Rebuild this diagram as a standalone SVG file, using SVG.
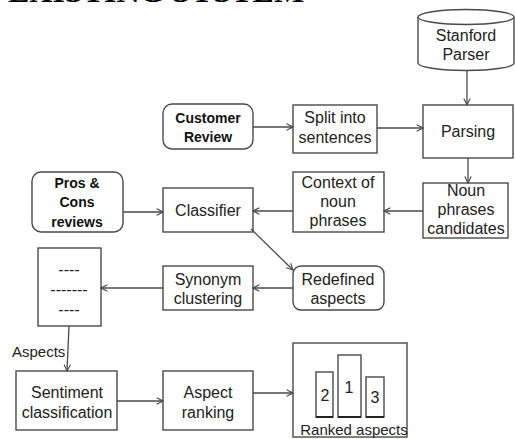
<svg xmlns="http://www.w3.org/2000/svg" width="515" height="439" viewBox="0 0 515 439">
<style>
.box{fill:#fff;stroke:#4a4a4a;stroke-width:1.4}
.t{font-family:"Liberation Sans",Arial,sans-serif;font-size:16px;fill:#222;text-anchor:middle}
.b{font-family:"Liberation Sans",Arial,sans-serif;font-size:14px;font-weight:bold;fill:#111;text-anchor:middle}
.c{fill:none;stroke:#4a4a4a;stroke-width:1.3}
.title{font-family:"Liberation Serif","Times New Roman",serif;font-size:32px;font-weight:bold;fill:#000}
</style>
<defs>
<marker id="ah" viewBox="0 0 10 10" refX="9" refY="5" markerWidth="8" markerHeight="8" markerUnits="userSpaceOnUse" orient="auto">
<path d="M1,1 L9,5 L1,9" fill="none" stroke="#4a4a4a" stroke-width="1.4"/>
</marker>
</defs>
<rect width="515" height="439" fill="#fff"/>
<text class="title" x="8" y="2">EXISTING SYSTEM</text>

<g id="stanford-parser">
<path class="box" d="M418,17 L418,63 A48,7.5 0 0 0 514,63 L514,17"/>
<ellipse class="box" cx="466" cy="17" rx="48" ry="7.5"/>
<text class="t" x="466" y="41">Stanford</text>
<text class="t" x="466" y="60">Parser</text>
</g>

<g id="customer-review">
<rect class="box" x="163" y="104" width="90" height="45" rx="9"/>
<text class="b" x="208" y="123">Customer</text>
<text class="b" x="208" y="142">Review</text>
</g>

<g id="split">
<rect class="box" x="293" y="105" width="84" height="48"/>
<text class="t" x="335" y="123">Split into</text>
<text class="t" x="335" y="143">sentences</text>
</g>

<g id="parsing">
<rect class="box" x="423" y="105" width="90" height="53"/>
<text class="t" x="468" y="137">Parsing</text>
</g>

<g id="noun-phrases">
<rect class="box" x="423" y="183" width="85" height="55"/>
<text class="t" x="466" y="196">Noun</text>
<text class="t" x="466" y="215">phrases</text>
<text class="t" x="466" y="234">candidates</text>
</g>

<g id="context">
<rect class="box" x="293" y="172" width="91" height="60"/>
<text class="t" x="338" y="188">Context of</text>
<text class="t" x="338" y="207">noun</text>
<text class="t" x="338" y="226">phrases</text>
</g>

<g id="pros-cons">
<rect class="box" x="32" y="172" width="91" height="60" rx="9"/>
<text class="b" x="77" y="188">Pros &amp;</text>
<text class="b" x="77" y="207">Cons</text>
<text class="b" x="77" y="227">reviews</text>
</g>

<g id="classifier">
<rect class="box" x="163" y="188" width="90" height="44"/>
<text class="t" x="208" y="216">Classifier</text>
</g>

<g id="redefined">
<rect class="box" x="293" y="266" width="91" height="44" rx="8"/>
<text class="t" x="338" y="285">Redefined</text>
<text class="t" x="338" y="304">aspects</text>
</g>

<g id="synonym">
<rect class="box" x="163" y="266" width="90" height="44"/>
<text class="t" x="208" y="285">Synonym</text>
<text class="t" x="208" y="304">clustering</text>
</g>

<g id="list">
<rect class="box" x="38" y="248" width="63" height="78"/>
<text class="t" x="69" y="275">----</text>
<text class="t" x="69" y="295">-------</text>
<text class="t" x="69" y="315">----</text>
</g>

<g id="sentiment">
<rect class="box" x="16" y="371" width="101" height="59"/>
<text class="t" x="67" y="398">Sentiment</text>
<text class="t" x="67" y="418">classification</text>
</g>

<g id="aspect-ranking">
<rect class="box" x="163" y="371" width="90" height="59"/>
<text class="t" x="208" y="398">Aspect</text>
<text class="t" x="208" y="418">ranking</text>
</g>

<g id="ranked-aspects">
<rect class="box" x="293" y="343" width="114" height="94"/>
<rect class="box" x="316" y="372" width="17" height="45"/>
<line x1="316" y1="417" x2="333" y2="417" stroke="#222" stroke-width="2"/>
<rect class="box" x="338" y="355" width="23" height="62"/>
<line x1="338" y1="417" x2="361" y2="417" stroke="#222" stroke-width="2"/>
<rect class="box" x="366" y="377" width="18" height="40"/>
<line x1="366" y1="417" x2="384" y2="417" stroke="#222" stroke-width="2"/>
<text class="t" x="325" y="401">2</text>
<text class="t" x="349" y="393">1</text>
<text class="t" x="375" y="403">3</text>
<text class="t" x="354" y="435" style="font-size:15px">Ranked aspects</text>
</g>

<g id="connectors">
<line class="c" x1="467" y1="70" x2="467" y2="105" marker-end="url(#ah)"/>
<line class="c" x1="253" y1="127" x2="293" y2="127" marker-end="url(#ah)"/>
<line class="c" x1="377" y1="128" x2="423" y2="128" marker-end="url(#ah)"/>
<line class="c" x1="468" y1="158" x2="468" y2="183" marker-end="url(#ah)"/>
<line class="c" x1="423" y1="211" x2="384" y2="211" marker-end="url(#ah)"/>
<line class="c" x1="293" y1="211" x2="253" y2="211" marker-end="url(#ah)"/>
<line class="c" x1="123" y1="212" x2="163" y2="212" marker-end="url(#ah)"/>
<line class="c" x1="251" y1="229" x2="293" y2="270" marker-end="url(#ah)"/>
<line class="c" x1="293" y1="288" x2="253" y2="288" marker-end="url(#ah)"/>
<line class="c" x1="163" y1="288" x2="101" y2="288" marker-end="url(#ah)"/>
<line class="c" x1="69" y1="326" x2="67" y2="371" marker-end="url(#ah)"/>
<text class="t" x="12" y="357" style="text-anchor:start;font-size:15px">Aspects</text>
<line class="c" x1="117" y1="401" x2="163" y2="401" marker-end="url(#ah)"/>
<line class="c" x1="253" y1="393" x2="293" y2="393" marker-end="url(#ah)"/>
</g>
</svg>
